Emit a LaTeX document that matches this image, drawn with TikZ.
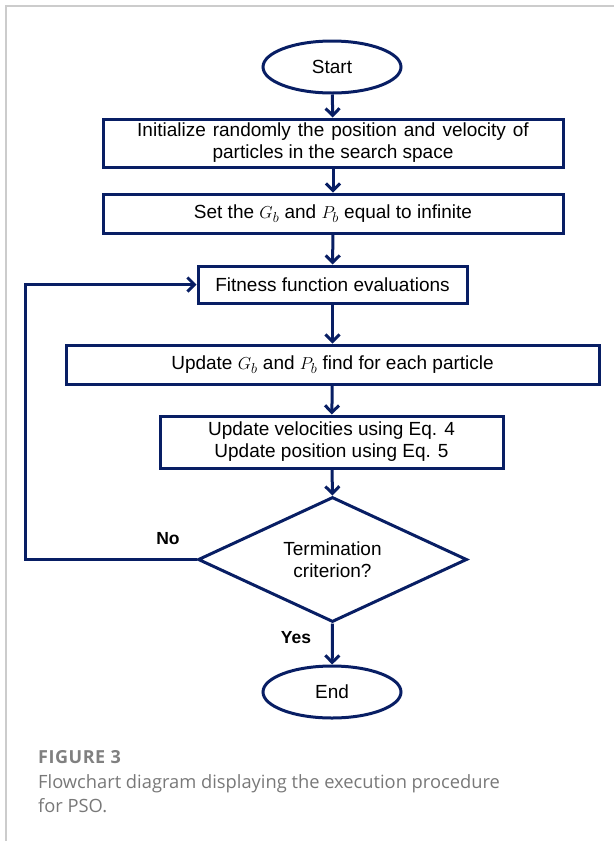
\documentclass[tikz,border=0pt]{standalone}
\usepackage{fontspec}
\setmainfont{Liberation Sans}
\newfontfamily\capfont{Open Sans}
\newfontfamily\capfontsp[LetterSpace=3]{Open Sans}
\usetikzlibrary{shapes.geometric,arrows.meta}
\definecolor{navy}{RGB}{8,30,100}
\definecolor{framegrey}{RGB}{204,204,204}
\definecolor{capgrey}{RGB}{120,120,120}
\definecolor{figgrey}{RGB}{128,128,128}
\tikzset{
  boxstyle/.style={draw=navy, line width=3pt, rectangle, inner sep=0pt, align=center, font=\fontsize{19}{22}\selectfont},
  ovalstyle/.style={draw=navy, line width=3pt, ellipse, inner sep=0pt, minimum width=138pt, minimum height=52pt, font=\fontsize{19}{22}\selectfont},
  decstyle/.style={draw=navy, line width=3pt, diamond, shape aspect=2.13, inner sep=0pt, minimum width=269pt, minimum height=125pt, align=center, font=\fontsize{19}{22}\selectfont},
  flow/.style={draw=navy, line width=3pt, -{Straight Barb[length=7pt,width=14pt,line width=3pt]}},
  lbl/.style={font=\bfseries\fontsize{17.5}{20}\selectfont, inner sep=0pt}
}
\begin{document}
\begin{tikzpicture}[x=1pt,y=-1pt]
\useasboundingbox (0,0) rectangle (614,841);
\draw[framegrey, line width=1.5pt] (6,841) -- (6,6) -- (614,6);

\node[ovalstyle] (start) at (332,67) {Start};
\node[boxstyle, minimum width=460pt, minimum height=48pt] (init) at (333,143)
  {\spaceskip=7pt Initialize randomly the position and velocity of\\particles in the search space};
\node[boxstyle, minimum width=460pt, minimum height=39pt] (setg) at (333,213.5)
  {Set the \(G_b\) and \(P_b\) equal to infinite};
\node[boxstyle, minimum width=269pt, minimum height=37pt] (fit) at (332.5,284.5)
  {Fitness function evaluations};
\node[boxstyle, minimum width=533pt, minimum height=39pt] (upd) at (332.5,364.5)
  {Update \(G_b\) and \(P_b\) find for each particle};
\node[boxstyle, minimum width=343pt, minimum height=52pt] (vel) at (331.5,442)
  {Update velocities using Eq. 4\\Update position using Eq. 5};
\node[decstyle] (term) at (332.5,559.5) {Termination\\criterion?};
\node[ovalstyle] (end) at (332,692) {End};

\coordinate (fb) at (25,559.5);

\draw[flow] (start) -- (init);
\draw[flow] (init) -- (setg);
\draw[flow] (setg) -- (fit);
\draw[flow] (fit) -- (upd);
\draw[flow] (upd) -- (vel);
\draw[flow] (vel) -- (term.north);
\draw[flow] (term.south) -- (end);
\draw[flow] (term.west) -- (fb) |- (fit.west);

\node[lbl] (no) at (168,539) {No};
\node[lbl] (yes) at (296,638) {Yes};

\node[anchor=west, inner sep=0pt, text=figgrey, font=\capfontsp\bfseries\fontsize{18}{24}\selectfont] (fig) at (38,757) {FIGURE 3};
\node[anchor=north west, inner sep=0pt, text=capgrey, align=left, font=\capfont\fontsize{18.3}{24}\selectfont] (cap) at (38,774)
  {Flowchart diagram displaying the execution procedure\\for PSO.};
\end{tikzpicture}
\end{document}
